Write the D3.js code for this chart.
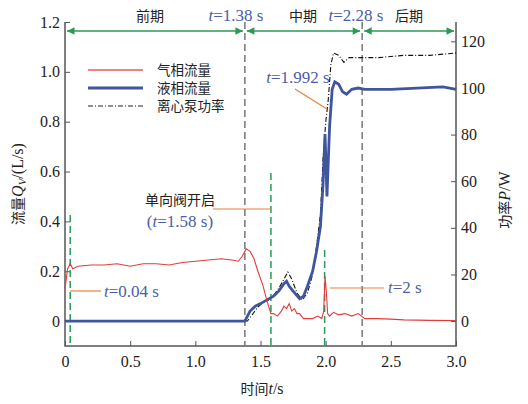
<!DOCTYPE html>
<html><head><meta charset="utf-8">
<script src="https://cdn.jsdelivr.net/npm/d3@7"></script>
<style>
body{margin:0;background:#fff}
svg text{font-family:"Liberation Serif","DejaVu Serif",serif !important;fill:#222}
svg text.cjk, svg tspan.cjk{font-family:"Noto Sans CJK SC",sans-serif !important}
.blue{fill:#4a5ea8 !important}
</style></head><body>
<svg id="c" width="528" height="404"></svg>
<script>
// gas flow (L/s)
const gasT = [0,0.02,0.04,0.06,0.1,0.2,0.3,0.4,0.5,0.6,0.7,0.8,0.9,1.0,1.1,1.2,1.28,1.33,1.36,1.39,1.42,1.45,1.48,1.52,1.55,1.58,1.6,1.63,1.66,1.68,1.7,1.72,1.74,1.76,1.78,1.8,1.83,1.86,1.9,1.94,1.97,1.985,1.995,2.005,2.015,2.03,2.06,2.1,2.15,2.2,2.25,2.3,2.4,2.5,2.6,2.8,3.0];
const gasQ = [0.13,0.21,0.23,0.21,0.22,0.225,0.225,0.23,0.22,0.23,0.23,0.225,0.235,0.24,0.245,0.25,0.245,0.24,0.26,0.29,0.28,0.25,0.2,0.14,0.08,0.03,0.03,0.02,0.04,0.06,0.05,0.07,0.04,0.05,0.03,0.03,0.01,0.01,0.01,0.02,0.01,0.04,0.18,0.12,0.03,0.02,0.035,0.025,0.03,0.02,0.03,0.01,0.01,0.008,0.005,0.003,0.002];
// liquid flow (L/s)
const liqT = [0,1.38,1.42,1.46,1.5,1.55,1.6,1.64,1.68,1.7,1.72,1.75,1.8,1.83,1.86,1.9,1.93,1.96,1.98,1.995,2.01,2.03,2.05,2.07,2.1,2.13,2.16,2.2,2.25,2.3,2.5,2.7,2.9,3.0];
const liqQ = [0,0,0.04,0.06,0.07,0.085,0.1,0.12,0.15,0.16,0.14,0.12,0.09,0.1,0.14,0.2,0.28,0.38,0.55,0.75,0.5,0.78,0.93,0.96,0.95,0.92,0.91,0.93,0.935,0.93,0.93,0.935,0.94,0.93];
// pump power (W)
const powT = [0,1.4,1.44,1.48,1.52,1.56,1.6,1.64,1.68,1.71,1.74,1.78,1.82,1.86,1.9,1.93,1.96,1.98,2.0,2.02,2.04,2.06,2.1,2.14,2.18,2.22,2.28,2.4,2.6,2.8,3.0];
const powP = [0,0,3,6,8,9,11,14,18,21,18,12,9,12,20,32,46,70,85,95,110,115,114,111,113,113,113,113,114,114,115];

const yTicks = [0,0.2,0.4,0.6,0.8,1.0,1.2];
const pTicks = [0,20,40,60,80,100,120];
const xTicks = [0,0.5,1.0,1.5,2.0,2.5,3.0];

const svg = d3.select("#c");
const L=65, R=456, T=22, B=346;
const x = d3.scaleLinear().domain([0,3]).range([L,R]);
const y = d3.scaleLinear().domain([-0.1,1.2]).range([B,T]);
const yp = d3.scaleLinear().domain([-10.7,128.3]).range([B,T]);

svg.append("path").attr("d",`M${L},${T}V${B}H${R}V${T}`).attr("fill","none").attr("stroke","#555").attr("stroke-width",1.5);

const ax = svg.append("g").attr("transform",`translate(0,${B})`).call(d3.axisBottom(x).tickValues(xTicks).tickSize(-5).tickFormat(d=>d===0?"0":d3.format(".1f")(d)));
const ay = svg.append("g").attr("transform",`translate(${L},0)`).call(d3.axisLeft(y).tickValues(yTicks).tickSize(-5).tickFormat(d=>d===0?"0":d3.format(".1f")(d)));
const ap = svg.append("g").attr("transform",`translate(${R},0)`).call(d3.axisRight(yp).tickValues(pTicks).tickSize(-5));
[ax,ay,ap].forEach(g=>{g.attr("font-family",null);g.select(".domain").remove();g.selectAll("line").attr("stroke","#555");g.selectAll("text").attr("font-size",16).attr("fill","#222");});
ax.selectAll("text").attr("dy","1.1em");
ay.selectAll("text").attr("dx","-2");
ap.selectAll("text").attr("dx","2");

const vline=(t,y0,col)=>svg.append("line").attr("x1",x(t)).attr("x2",x(t)).attr("y1",y0).attr("y2",B)
  .attr("stroke",col).attr("stroke-width",1.5).attr("stroke-dasharray","7,4");
vline(1.38,T,"#777"); vline(2.28,T,"#777");
vline(0.04,215,"#2a9a58"); vline(1.58,173,"#2a9a58"); vline(1.992,250,"#2a9a58");

const defs=svg.append("defs");
defs.append("marker").attr("id","ah").attr("viewBox","0 0 10 10").attr("refX",10).attr("refY",5)
  .attr("markerWidth",7).attr("markerHeight",5).attr("orient","auto-start-reverse")
  .append("path").attr("d","M0,0L10,5L0,10z").attr("fill","#2a9a58");
[[0,1.38],[1.38,2.28],[2.28,3]].forEach(([a,b])=>svg.append("line").attr("x1",x(a)+2).attr("x2",x(b)-2)
  .attr("y1",31).attr("y2",31).attr("stroke","#2a9a58").attr("stroke-width",1.5)
  .attr("marker-start","url(#ah)").attr("marker-end","url(#ah)"));

const lg=d3.line().x(d=>x(d[0])).y(d=>y(d[1]));
const lp=d3.line().x(d=>x(d[0])).y(d=>yp(d[1]));
svg.append("path").attr("d",lp(powT.map((t,i)=>[t,powP[i]]))).attr("fill","none").attr("stroke","#111").attr("stroke-width",1.1).attr("stroke-dasharray","5,2,1,2");
svg.append("path").attr("d",lg(liqT.map((t,i)=>[t,liqQ[i]]))).attr("fill","none").attr("stroke","#3f559e").attr("stroke-width",2.8);
svg.append("path").attr("d",lg(gasT.map((t,i)=>[t,gasQ[i]]))).attr("fill","none").attr("stroke","#e03c3c").attr("stroke-width",1.1);

const leg=[["气相流量","#e85a5a",1.3,null],["液相流量","#3f559e",3,null],["离心泵功率","#222",1.1,"5,2,1,2"]];
leg.forEach((d,i)=>{const yy=70+i*18;
  svg.append("line").attr("x1",88).attr("x2",143).attr("y1",yy).attr("y2",yy).attr("stroke",d[1]).attr("stroke-width",d[2]).attr("stroke-dasharray",d[3]);
  svg.append("text").attr("class","cjk").attr("x",157).attr("y",yy+5).attr("font-size",13.5).text(d[0]);});

const tlab=(xx,yy,val,anchor)=>{const t=svg.append("text").attr("x",xx).attr("y",yy).attr("font-size",17).attr("text-anchor",anchor||"middle").attr("class","blue");
  t.append("tspan").attr("font-style","italic").text("t");t.append("tspan").text("="+val);return t;};
const cj=(xx,yy,s)=>svg.append("text").attr("class","cjk").attr("x",xx).attr("y",yy).attr("font-size",14).attr("text-anchor","middle").text(s);
cj(150,21,"前期"); tlab(236,21,"1.38 s");
cj(303,21,"中期"); tlab(356,21,"2.28 s");
cj(409,21,"后期");

const lead=(x1,y1,x2,y2)=>svg.append("line").attr("x1",x1).attr("y1",y1).attr("x2",x2).attr("y2",y2).attr("stroke","#e8803a").attr("stroke-width",1.2);
tlab(298,83,"1.992 s"); lead(295,89,327,109);
cj(180,205,"单向阀开启");
const p=svg.append("text").attr("x",180).attr("y",227).attr("font-size",17).attr("text-anchor","middle").attr("class","blue");
p.append("tspan").text("(");p.append("tspan").attr("font-style","italic").text("t");p.append("tspan").text("=1.58 s)");
lead(213,209,272,209);
tlab(104,297,"0.04 s","start"); lead(70,291,101,291);
tlab(388,293,"2 s","start"); lead(330,288,384,288);

const xt=svg.append("text").attr("x",262).attr("y",394).attr("font-size",16).attr("text-anchor","middle");
xt.append("tspan").attr("class","cjk").attr("font-size",14).text("时间");xt.append("tspan").attr("font-style","italic").text("t");xt.append("tspan").text("/s");
const yt=svg.append("text").attr("transform","translate(23,184) rotate(-90)").attr("font-size",16).attr("text-anchor","middle");
yt.append("tspan").attr("class","cjk").attr("font-size",14).text("流量");yt.append("tspan").attr("font-style","italic").text("Q");
yt.append("tspan").attr("font-style","italic").attr("font-size",11).attr("dy",3).text("V");yt.append("tspan").attr("dy",-3).text("/(L/s)");
const pt=svg.append("text").attr("transform","translate(510,200) rotate(-90)").attr("font-size",16).attr("text-anchor","middle");
pt.append("tspan").attr("class","cjk").attr("font-size",14).text("功率");pt.append("tspan").attr("font-style","italic").text("P");pt.append("tspan").text("/W");
</script></body></html>
